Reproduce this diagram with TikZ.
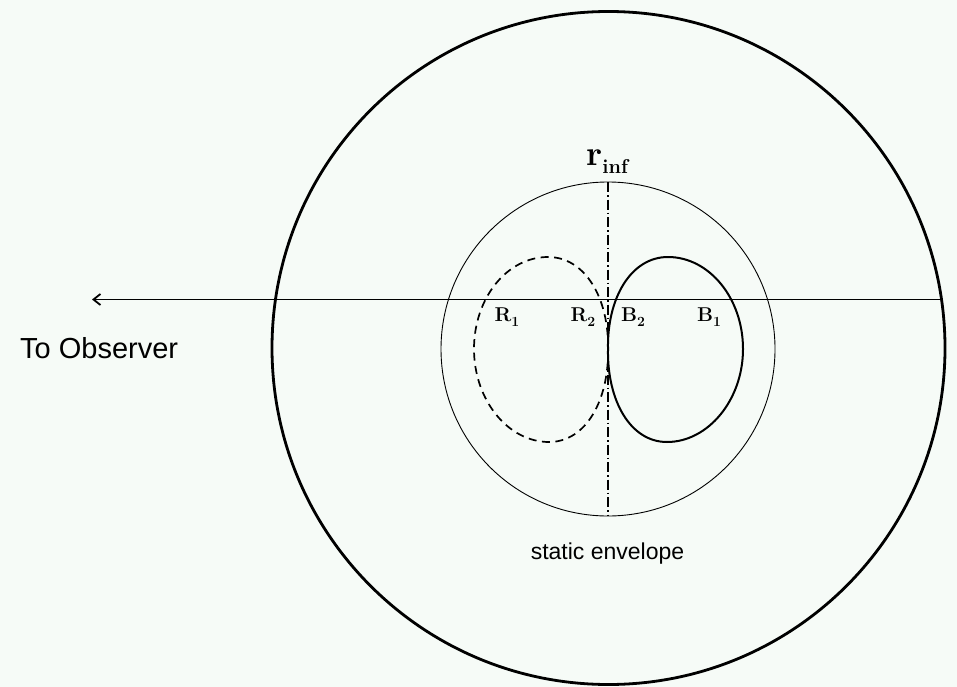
\documentclass[tikz,border=0pt]{standalone}
\usepackage{fontspec}
\newfontfamily\sansf{Liberation Sans}
\usetikzlibrary{arrows.meta}
\definecolor{bgc}{RGB}{246,251,247}
\newcommand{\lobelabel}[2]{\textbf{#1}\raisebox{-4.5pt}{\fontsize{14}{14}\selectfont\bfseries #2}}
\begin{document}
\begin{tikzpicture}[x=1pt,y=-1pt,
  envelope/.style={circle, draw, line width=2.8pt, minimum size=673pt, inner sep=0pt},
  infcircle/.style={circle, draw, line width=0.9pt, minimum size=334pt, inner sep=0pt, outer sep=0pt},
  lbl/.style={font=\fontsize{20}{20}\selectfont, inner sep=0pt},
  sanslbl/.style={inner sep=0pt},
  axisline/.style={line width=1.4pt},
  dashdot/.style={line width=1.4pt, dash pattern=on 10pt off 3pt on 1.5pt off 3pt},
  lobe/.style={line width=2pt},
  lobedash/.style={line width=1.7pt, dash pattern=on 8pt off 5.5pt}
]
\fill[bgc] (0,0) rectangle (957,687);
\useasboundingbox (0,0) rectangle (957,687);

% circles
\node[envelope] (env) at (608.5,348) {};
\node[infcircle] (inf) at (608,349) {};

% line of sight
\coordinate (losR) at (942,299.5);
\coordinate (losL) at (92,299.5);
\draw[axisline, -{Straight Barb[length=7pt,width=11pt,line width=1.8pt]}] (losR) -- (losL);

% rotation axis
\draw[dashdot] (inf.north) -- (inf.south);

% lobes
\draw[lobe] (608,349) .. controls (607,298) and (631,257) .. (668,257)
  .. controls (709,257) and (743,298) .. (743,349)
  .. controls (743,400) and (708,442) .. (667,442)
  .. controls (630,442) and (607,400) .. cycle;
\draw[lobedash] (608,349) .. controls (609,298) and (585,257) .. (548,257)
  .. controls (507,257) and (474,298) .. (474,349)
  .. controls (474,400) and (508,442) .. (549,442)
  .. controls (586,442) and (609,400) .. cycle;

% labels
\node[inner sep=0pt, anchor=base west] (rinf) at (586,165)
  {{\fontsize{35}{35}\selectfont\bfseries r}\raisebox{-8pt}{\fontsize{20}{20}\selectfont\bfseries inf}};
\node[lbl] (R1) at (507,317) {\lobelabel{R}{1}};
\node[lbl] (R2) at (583,317) {\lobelabel{R}{2}};
\node[lbl] (B2) at (633,317) {\lobelabel{B}{2}};
\node[lbl] (B1) at (709,317) {\lobelabel{B}{1}};

\node[sanslbl, anchor=base west, font=\sansf\fontsize{29}{29}\selectfont] (obs) at (20,358) {To Observer};
\node[sanslbl, anchor=base, font=\sansf\fontsize{23}{23}\selectfont] (stat) at (607.5,559) {static envelope};
\end{tikzpicture}
\end{document}
